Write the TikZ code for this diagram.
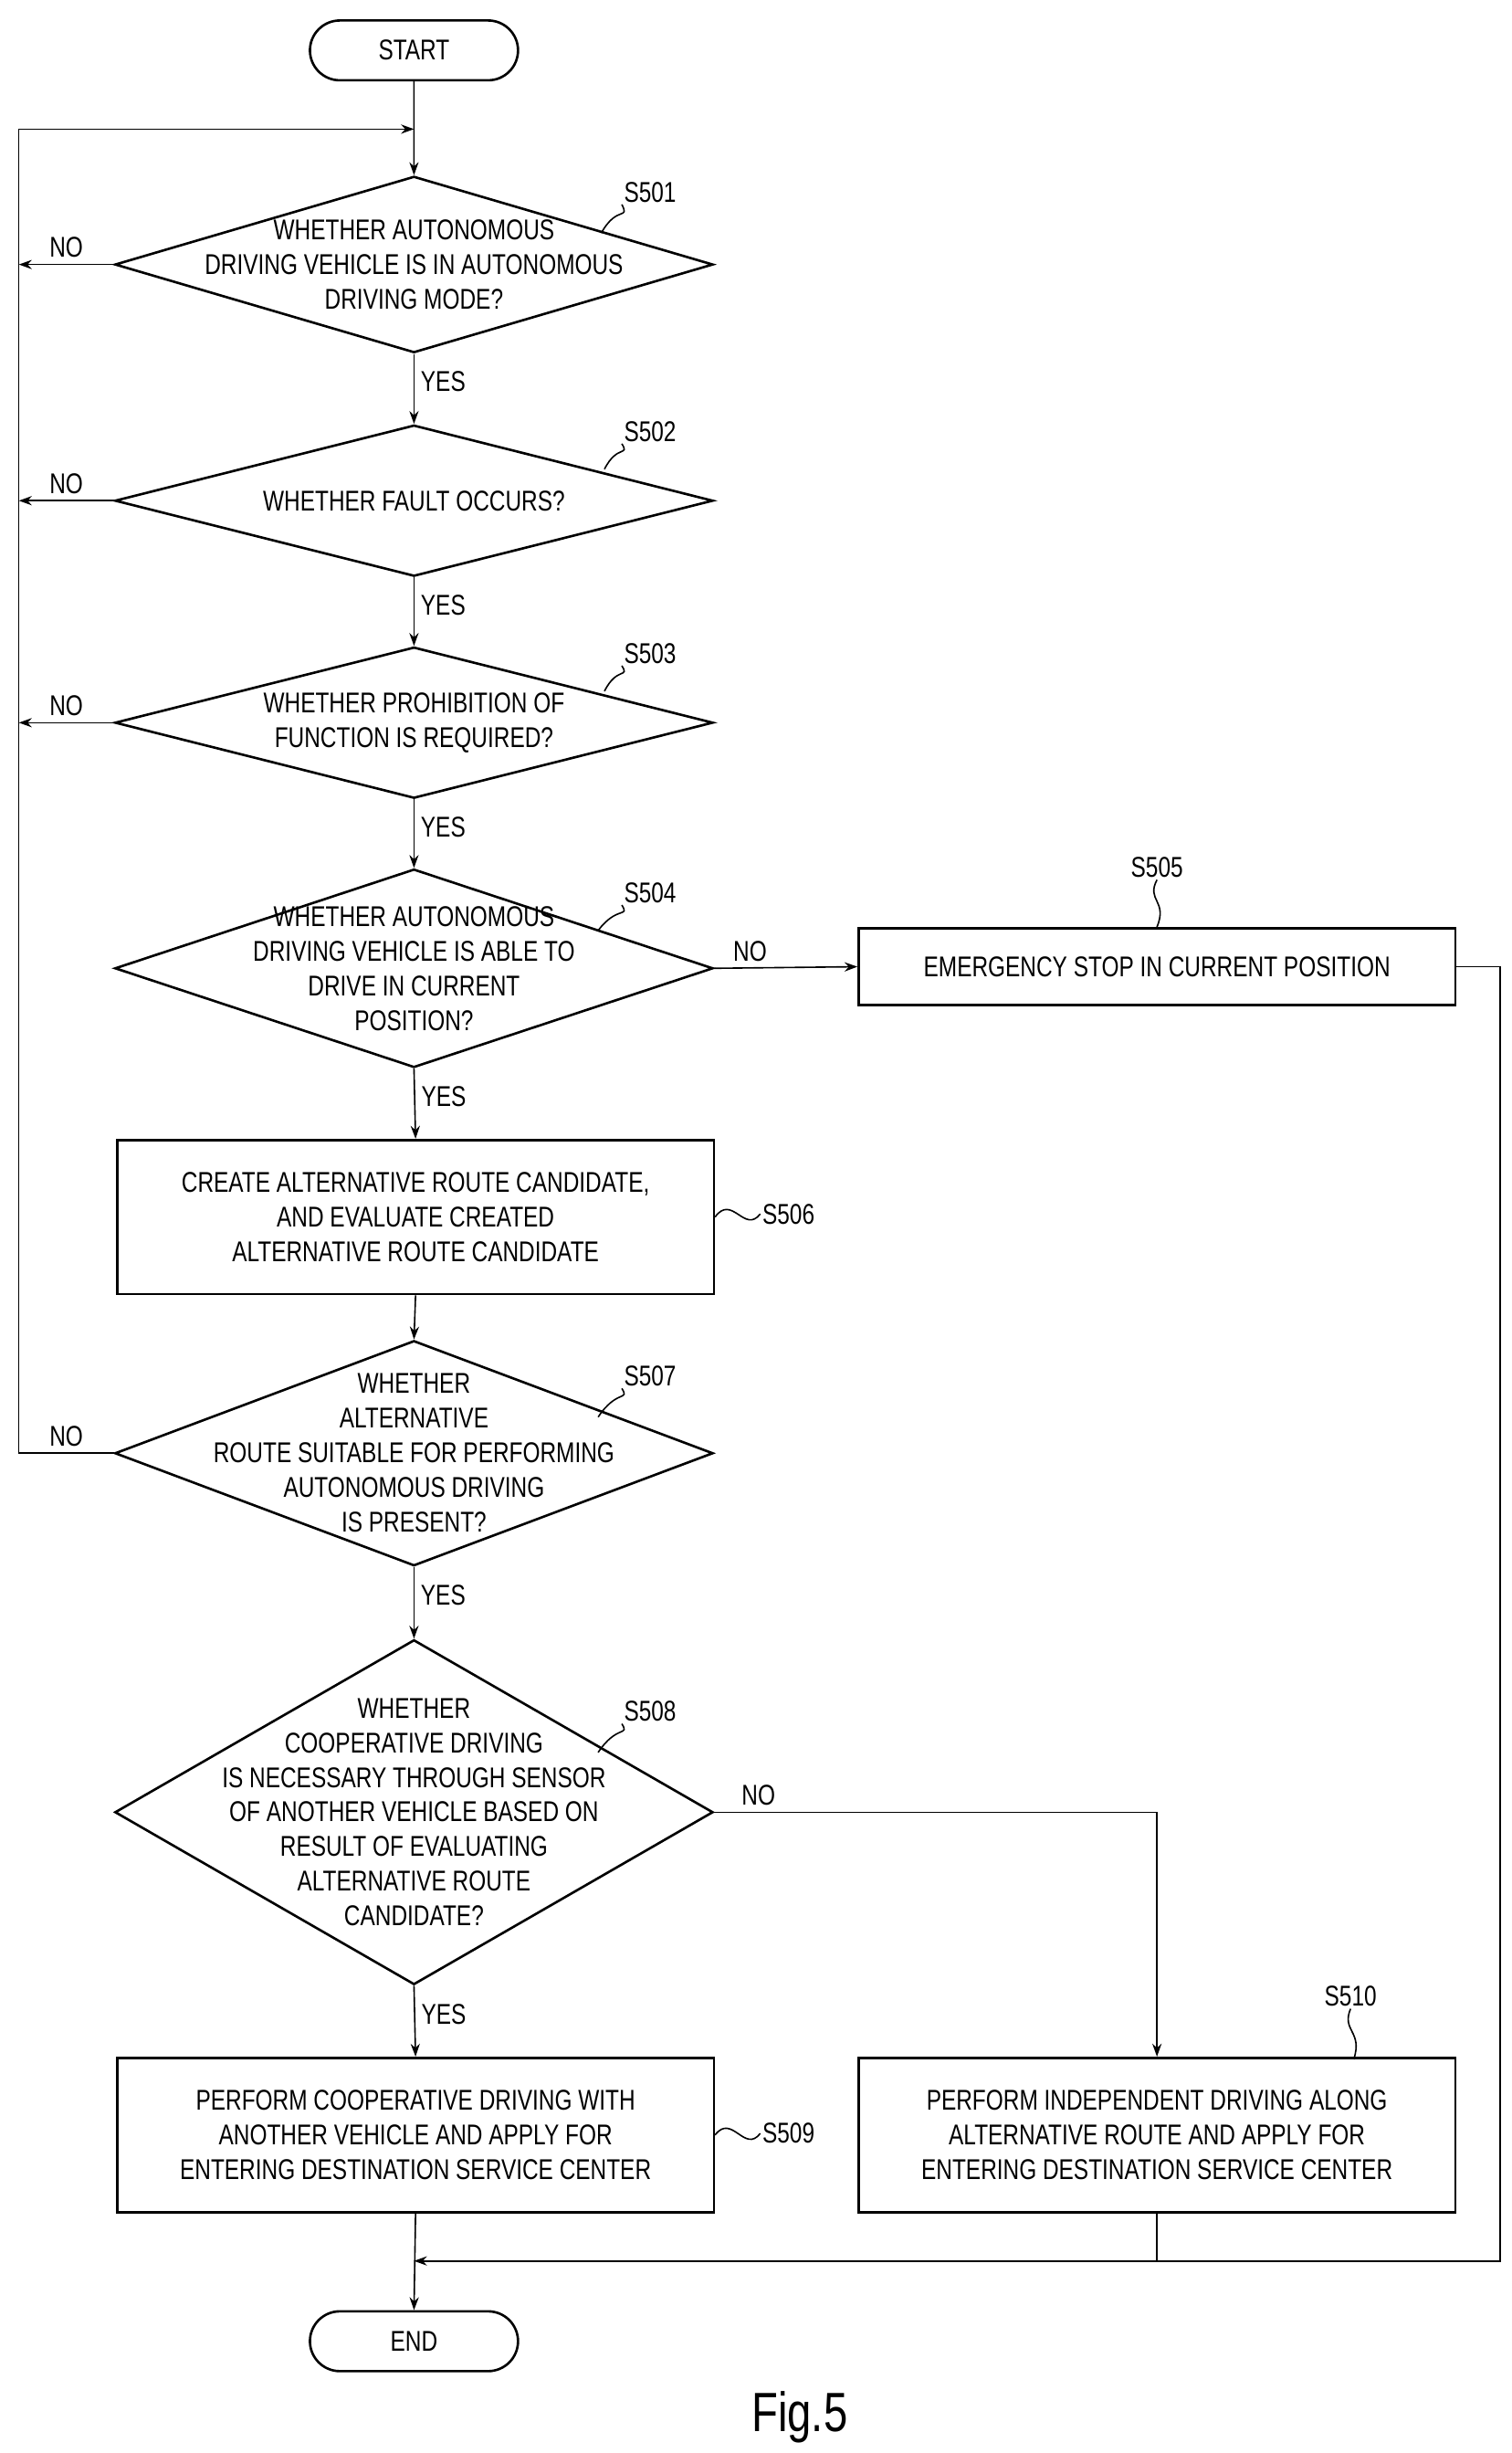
\documentclass[tikz,border=0pt]{standalone}
\usepackage{fontspec}
\setmainfont{Liberation Sans}[FakeStretch=0.78]
\usetikzlibrary{shapes.geometric,shapes.misc,arrows.meta}

\tikzset{
  term/.style={draw,line width=1.3pt,rounded rectangle,minimum width=4.2cm,minimum height=1.14cm},
  dia/.style={draw,line width=1.3pt,diamond,inner sep=0pt},
  box/.style={draw,line width=1.3pt,minimum width=11.37cm,minimum height=2.94cm,align=center},
  txt/.style={align=center},
  line/.style={line width=0.8pt},
  arr/.style={line,-{Stealth[length=7pt,width=5pt]}},
  steplbl/.style={inner sep=1pt},
}
\begin{document}
\begin{tikzpicture}[x=0.03cm,y=-0.03cm,font=\fontsize{15.5}{18.8}\selectfont]
\useasboundingbox (0,0) rectangle (960,1558);

% terminals
\node[term] (start) at (263,32) {START};
\node[term] (end) at (263,1487) {END};

% decisions
\node[dia,minimum width=11.4cm,minimum height=3.36cm] (d501) at (263,168) {};
\node[txt] at (d501) {WHETHER AUTONOMOUS\\DRIVING VEHICLE IS IN AUTONOMOUS\\DRIVING MODE?};
\node[dia,minimum width=11.4cm,minimum height=2.88cm] (d502) at (263,318) {};
\node[txt] at (d502) {WHETHER FAULT OCCURS?};
\node[dia,minimum width=11.4cm,minimum height=2.88cm] (d503) at (263,459) {};
\node[txt] at (d503) {WHETHER PROHIBITION OF\\FUNCTION IS REQUIRED?};
\node[dia,minimum width=11.4cm,minimum height=3.78cm] (d504) at (263,615) {};
\node[txt] at (d504) {WHETHER AUTONOMOUS\\DRIVING VEHICLE IS ABLE TO\\DRIVE IN CURRENT\\POSITION?};
\node[dia,minimum width=11.4cm,minimum height=4.29cm] (d507) at (263,923) {};
\node[txt] at (d507) {WHETHER\\ALTERNATIVE\\ROUTE SUITABLE FOR PERFORMING\\AUTONOMOUS DRIVING\\IS PRESENT?};
\node[dia,minimum width=11.4cm,minimum height=6.57cm] (d508) at (263,1151) {};
\node[txt] at (d508) {WHETHER\\COOPERATIVE DRIVING\\IS NECESSARY THROUGH SENSOR\\OF ANOTHER VEHICLE BASED ON\\RESULT OF EVALUATING\\ALTERNATIVE ROUTE\\CANDIDATE?};

% processes
\node[box,minimum height=1.47cm] (b505) at (735,614) {EMERGENCY STOP IN CURRENT POSITION};
\node[box] (b506) at (264,773) {CREATE ALTERNATIVE ROUTE CANDIDATE,\\AND EVALUATE CREATED\\ALTERNATIVE ROUTE CANDIDATE};
\node[box] (b509) at (264,1356) {PERFORM COOPERATIVE DRIVING WITH\\ANOTHER VEHICLE AND APPLY FOR\\ENTERING DESTINATION SERVICE CENTER};
\node[box] (b510) at (735,1356) {PERFORM INDEPENDENT DRIVING ALONG\\ALTERNATIVE ROUTE AND APPLY FOR\\ENTERING DESTINATION SERVICE CENTER};

% helper points
\coordinate (top) at (263,82);
\coordinate (loop) at (12,82);
\coordinate (merge) at (263,1436);
\coordinate (right) at (953,1436);
\coordinate (turn) at (735,1151);

% main flow
\draw[arr] (start) -- (d501.north);
\draw[arr] (d501.south) -- node[right,pos=0.4]{YES} (d502.north);
\draw[arr] (d502.south) -- node[right,pos=0.4]{YES} (d503.north);
\draw[arr] (d503.south) -- node[right,pos=0.4]{YES} (d504.north);
\draw[arr] (d504.south) -- node[right,pos=0.4]{YES} (b506.north);
\draw[arr] (b506.south) -- (d507.north);
\draw[arr] (d507.south) -- node[right,pos=0.4]{YES} (d508.north);
\draw[arr] (d508.south) -- node[right,pos=0.4]{YES} (b509.north);
\draw[arr] (b509.south) -- (end.north);

% NO branches
\foreach \d in {d501,d502,d503}
  \draw[arr] (\d.west) -- node[above]{NO} (\d.west -| loop);
\draw[line] (d507.west) -- node[above]{NO} (d507.west -| loop) -- (loop);
\draw[arr] (loop) -- (top);
\draw[arr] (d504.east) -- node[above,pos=0.25]{NO} (b505.west);
\draw[arr] (d508.east) -- node[above,pos=0.1]{NO} (turn) -- (b510.north);
\draw[arr] (b505.east) -| (right) -- (merge);
\draw[line] (b510.south) -- (b510.south |- merge);

% step labels
\node[steplbl] (s501) at (413,122) {S501};
\draw[line] (s501.south west) .. controls (400,140) and (392,130) .. (382,148);
\node[steplbl] (s502) at (413,274) {S502};
\draw[line] (s502.south west) .. controls (400,290) and (392,282) .. (384,298);
\node[steplbl] (s503) at (413,415) {S503};
\draw[line] (s503.south west) .. controls (400,431) and (392,423) .. (384,439);
\node[steplbl] (s504) at (413,567) {S504};
\draw[line] (s504.south west) .. controls (400,583) and (392,575) .. (380,591);
\node[steplbl] (s505) at (735,551) {S505};
\draw[line] (s505.south) .. controls (728,572) and (742,572) .. (b505.north);
\node[steplbl,anchor=west] (s506) at (483,771) {S506};
\draw[line] (b506.east) .. controls (465,758) and (473,784) .. (s506.west);
\node[steplbl] (s507) at (413,874) {S507};
\draw[line] (s507.south west) .. controls (400,890) and (392,882) .. (380,900);
\node[steplbl] (s508) at (413,1087) {S508};
\draw[line] (s508.south west) .. controls (400,1103) and (392,1095) .. (380,1113);
\node[steplbl,anchor=west] (s509) at (483,1355) {S509};
\draw[line] (b509.east) .. controls (465,1342) and (473,1368) .. (s509.west);
\node[steplbl] (s510) at (858,1268) {S510};
\draw[line] (s510.south) .. controls (852,1290) and (866,1290) .. (860,1308);

\node[font=\fontsize{30}{36}\selectfont] (fig) at (508,1535) {Fig.5};
\end{tikzpicture}
\end{document}
